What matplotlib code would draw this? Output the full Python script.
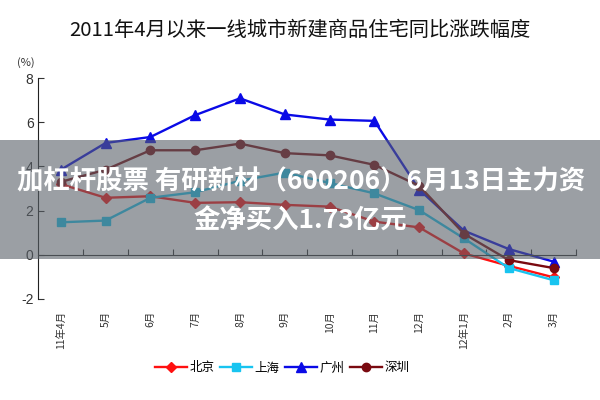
import matplotlib
matplotlib.use("Agg")
import matplotlib.pyplot as plt
from matplotlib.patches import Rectangle
import numpy as np

plt.rcParams['font.family'] = ['Noto Sans CJK SC', 'DejaVu Sans']
plt.rcParams['axes.unicode_minus'] = False

# ---- données ----
mois = ['11年4月', '5月', '6月', '7月', '8月', '9月', '10月', '11月', '12月', '12年1月', '2月', '3月']
beijing = [3.2, 2.58, 2.65, 2.35, 2.38, 2.26, 2.18, 1.5, 1.24, 0.06, -0.5, -1.02]
shanghai = [1.47, 1.55, 2.58, 2.83, 3.35, 3.72, 3.25, 2.78, 2.02, 0.74, -0.6, -1.15]
guangzhou = [3.85, 5.06, 5.33, 6.32, 7.08, 6.35, 6.12, 6.06, 2.95, 1.09, 0.26, -0.31]
shenzhen = [3.3, 3.85, 4.73, 4.73, 5.03, 4.6, 4.5, 4.07, 3.12, 0.95, -0.24, -0.6]

titre = '2011年4月以来一线城市新建商品住宅同比涨跌幅度'
bandeau1 = '加杠杆股票 有研新材（600206）6月13日主力资'
bandeau2 = '金净买入1.73亿元'

fig = plt.figure(figsize=(6, 4), dpi=100)
ax = fig.add_axes([0.064, 0.2525, 0.896, 0.5525])

x = np.arange(len(mois))
ax.plot(x, beijing, color='#ff1010', lw=1.7, marker='D', ms=5, label='北京')
ax.plot(x, shanghai, color='#18c4f0', lw=1.7, marker='s', ms=6, label='上海')
ax.plot(x, guangzhou, color='#0a0ae6', lw=1.7, marker='^', ms=7, label='广州')
ax.plot(x, shenzhen, color='#7a0a10', lw=1.7, marker='o', ms=6, label='深圳')

ax.set_xlim(-0.5, len(mois) - 0.5)
ax.set_ylim(-2, 8)
ax.set_yticks([-2, 0, 2, 4, 6, 8])
ax.tick_params(axis='y', direction='in', length=4, labelsize=10, colors='#333333',
               labelfontfamily='Liberation Sans')
ax.tick_params(axis='x', direction='in', length=4, colors='#333333')

for s in ['top', 'right']:
    ax.spines[s].set_visible(False)
ax.spines['bottom'].set_position(('data', 0))
ax.spines['bottom'].set_color('#333333')
ax.spines['left'].set_color('#222222')
ax.set_xticks(np.arange(0.5, len(mois), 1))
ax.set_xticklabels([])

# étiquettes des mois en bas, tournées
for i, m in enumerate(mois):
    ax.annotate(m, xy=(i, 0), xycoords=('data', 'axes fraction'), xytext=(0, -8.5),
                textcoords='offset points', rotation=90, ha='center', va='top',
                fontsize=7.5, color='#333333')

fig.text(0.5, 1 - 31 / 400, titre, ha='center', va='center', fontsize=14.6, color='#111111')
fig.text(26 / 600, 1 - 63 / 400, '(%)', ha='center', va='center', fontsize=8, color='#333333')

fig.legend(loc='center', bbox_to_anchor=(0.47, 0.08), ncol=4, frameon=False, fontsize=9,
           handlelength=2.6, columnspacing=0.4, handletextpad=0.2)

# bandeau gris semi-transparent
fig.add_artist(Rectangle((0, 1 - 259 / 400), 1, 119 / 400, transform=fig.transFigure,
                         facecolor='#596068', alpha=0.6, edgecolor='none', zorder=10))
fig.text(0.502, 1 - 182 / 400, bandeau1, ha='center', va='center', fontsize=19,
         fontweight='bold', color='white', zorder=11)
fig.text(0.5, 1 - 221 / 400, bandeau2, ha='center', va='center', fontsize=19,
         fontweight='bold', color='white', zorder=11)

fig.savefig('out.png', dpi=100)
